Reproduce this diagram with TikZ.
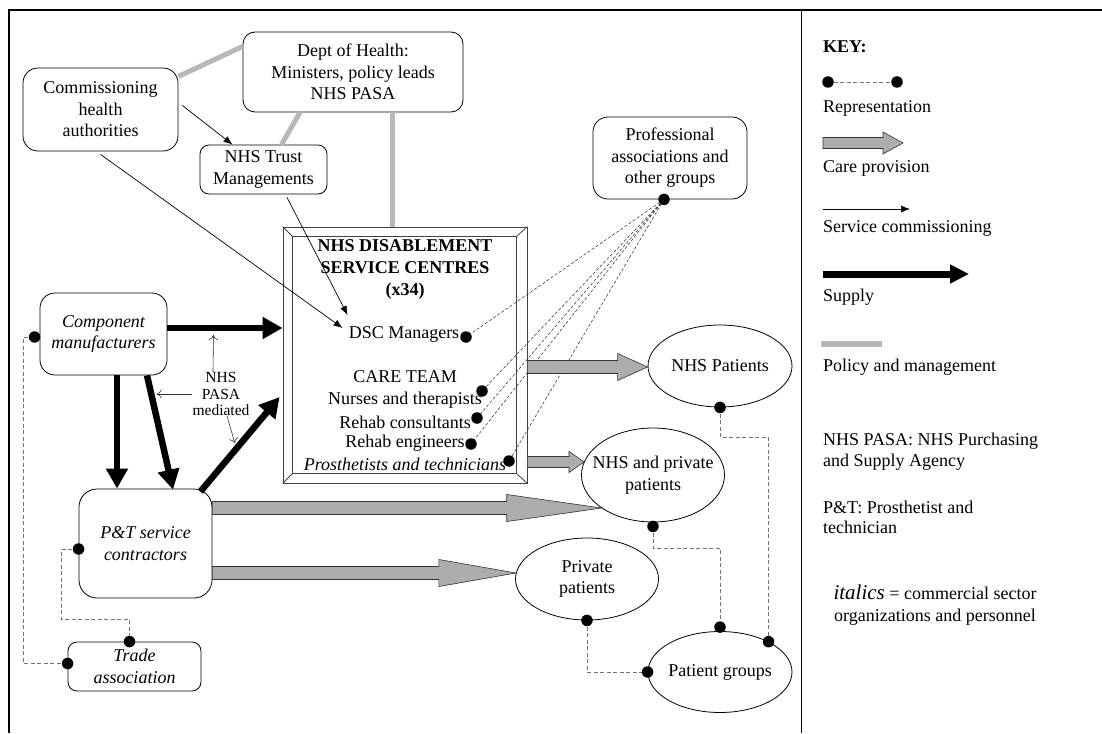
\documentclass[tikz,border=0pt]{standalone}
\usepackage{fontspec}
\setmainfont{Liberation Serif}
\usetikzlibrary{arrows.meta,shapes.geometric,calc,positioning,backgrounds}
\newcommand{\basefont}{\fontsize{18}{21.5}\selectfont}
\newcommand{\caregive}[5]{%
  \filldraw[fill=black!32, draw=black!80, line width=0.6pt]
    let \p1=#1, \p2=#2 in
    (\x1,\y1+#3) -- (\x2-#5,\y1+#3) -- (\x2-#5,\y1+#4) -- (\x2,\y1)
    -- (\x2-#5,\y1-#4) -- (\x2-#5,\y1-#3) -- (\x1,\y1-#3) -- cycle;}
\begin{document}
\begin{tikzpicture}[x=1pt, y=-1pt, font=\basefont]
    \tikzstyle{box} = [draw, rounded corners=12pt, align=center, inner sep=2pt, line width=0.8pt];
    \tikzstyle{ibox} = [box, rounded corners=15pt, font=\basefont\itshape];
    \tikzstyle{oval} = [draw, ellipse, align=center, inner sep=-12pt, line width=0.8pt];
    \tikzstyle{txt} = [inner sep=0pt, align=center];
    \tikzstyle{dot} = [circle, fill=black, inner sep=0pt, minimum size=11.5pt];
    \tikzstyle{policy} = [line width=5pt, draw=black!28];
    \tikzstyle{commission} = [-{Latex[length=9pt,width=7pt]}, line width=0.7pt];
    \tikzstyle{supply} = [-{Triangle[length=20pt,width=21pt]}, line width=6.5pt];
    \tikzstyle{repr} = [dash pattern=on 4pt off 2.5pt, line width=0.6pt, draw=black!55];
    \tikzstyle{rlink} = [dash pattern=on 3pt off 2pt, line width=0.5pt, draw=black!85];
    \tikzstyle{note} = [-{To[length=5pt,width=9pt]}, line width=0.6pt, draw=black!80];
    \useasboundingbox (0,0) rectangle (1102,733);
    \draw[line width=2.2pt] (9,733) -- (9,10) -- (1102,10);
    \draw[line width=0.9pt] (801,10) -- (801,733);
    % boxes
    \node [box, minimum width=220pt, minimum height=80pt] (dept) at (353,72) {Dept of Health:\\Ministers, policy leads\\NHS PASA};
    \node [box, rounded corners=15pt, minimum width=155pt, minimum height=83pt] (comm) at (100.5,109.5) {Commissioning\\health\\authorities};
    \node [box, rounded corners=9pt, minimum width=127pt, minimum height=49pt] (trust) at (263.5,169.5) {NHS Trust\\Managements};
    \node [box, rounded corners=15pt, minimum width=154pt, minimum height=82pt] (prof) at (670,158) {Professional\\associations and\\other groups};
    \node [ibox, minimum width=127pt, minimum height=82pt] (comp) at (103.5,334) {Component\\manufacturers};
    \node [ibox, rounded corners=18pt, minimum width=133pt, minimum height=109pt] (pt) at (145.5,543.5) {P\&T service\\contractors};
    \node [ibox, rounded corners=9pt, minimum width=133pt, minimum height=49pt] (trade) at (134.5,666.5) {Trade\\association};
    % service centres
    \node [draw=black!75, line width=0.8pt, minimum width=244pt, minimum height=256pt, inner sep=0pt] (dsc) at (405,355) {};
    \draw[black!75, line width=0.8pt] ([shift={(10,10)}]dsc.north west) rectangle ([shift={(-11,-10)}]dsc.south east);
    \draw[black!75, line width=0.8pt] (dsc.north west) -- ([shift={(10,10)}]dsc.north west);
    \draw[black!75, line width=0.8pt] (dsc.north east) -- ([shift={(-11,10)}]dsc.north east);
    \draw[black!75, line width=0.8pt] (dsc.south west) -- ([shift={(10,-10)}]dsc.south west);
    \draw[black!75, line width=0.8pt] (dsc.south east) -- ([shift={(-11,-10)}]dsc.south east);
    \node [txt, font=\fontsize{18}{22}\selectfont\bfseries] (title) at (405,269) {NHS DISABLEMENT\\SERVICE CENTRES\\(x34)};
    \node [txt] (man) at (404,334) {DSC Managers};
    \node [txt] (team) at (405,377) {CARE TEAM};
    \node [txt] (nurse) at (405,400) {Nurses and therapists};
    \node [txt] (cons) at (405,422) {Rehab consultants};
    \node [txt] (eng) at (405,443) {Rehab engineers};
    \node [txt, font=\basefont\itshape] (pros) at (405,464) {Prosthetists and technicians};
    % patients
    \node [oval, minimum width=144pt, minimum height=82pt] (nhspat) at (720,366) {NHS Patients};
    \node [oval, minimum width=143pt, minimum height=94pt] (nhspriv) at (653,475) {NHS and private\\patients};
    \node [oval, minimum width=143pt, minimum height=82pt] (privpat) at (587,579) {Private\\patients};
    \node [oval, minimum width=144pt, minimum height=81pt] (patgrp) at (720,672) {Patient groups};
    % policy and management
    \draw[policy] (comm.23) -- (dept.167);
    \draw[policy] ([xshift=-53pt]dept.south) -- ([xshift=18pt]trust.north);
    \draw[policy] ([xshift=39pt]dept.south) -- ([xshift=39pt]dept.south |- dsc.north);
    % service commissioning
    \draw[commission] ([xshift=4pt,yshift=4pt]comm.east) -- ([xshift=-31pt]trust.north);
    \draw[commission] ([yshift=-3pt]comm.south) -- ([shift={(-6,-6)}]man.west);
    \draw[commission] ([shift={(23.5,3)}]trust.south) -- ([shift={(-1,-19)}]man.west);
    % supply
    \draw[supply] ([yshift=6pt]comp.east) -- coordinate[pos=0.4] (smid) ([yshift=6pt]comp.east -| dsc.west);
    \draw[supply] ([xshift=13.5pt]comp.south) -- ([xshift=13.5pt]comp.south |- pt.north);
    \draw[supply] ([xshift=43.5pt]comp.south) -- coordinate[pos=0.18] (smid2) ([xshift=27.5pt,yshift=-1pt]pt.north);
    \draw[supply] ([shift={(-12,3)}]pt.north east) -- coordinate[pos=0.46] (smid3) ([shift={(-3,42)}]dsc.west);
    \node [txt, font=\fontsize{15.5}{16.5}\selectfont] (pasa) at (221,394) {NHS\\PASA\\mediated};
    \draw[note] ([xshift=-8pt]pasa.north) -- ([yshift=-7pt]smid);
    \draw[note] (pasa.west) -- ([xshift=5pt]smid2 |- pasa.west);
    \draw[note] ([xshift=6pt]pasa.south) -- ([shift={(-2,-5)}]smid3);
    % care provision
    \caregive{([yshift=-12pt]dsc.east)}{(nhspat.west)}{6.5pt}{13.5pt}{30pt}
    \caregive{([yshift=-107pt]dsc.east)}{(nhspriv.169)}{5.5pt}{10.5pt}{15pt}
    \caregive{([yshift=35.5pt]pt.east)}{(nhspriv.213)}{6.5pt}{13.5pt}{95pt}
    \caregive{([yshift=-29.5pt]pt.east)}{(privpat.175)}{6.5pt}{13.5pt}{77pt}
    % representation
    \node [dot] (dprof) at ([xshift=-6pt]prof.south) {};
    \node [dot] (dman) at (466,337) {};
    \node [dot] (dnur) at (482,391) {};
    \node [dot] (dcon) at (477,418) {};
    \node [dot] (deng) at (471,444) {};
    \node [dot] (dpro) at (509,461) {};
    \node [dot] (dcomp) at ([shift={(-5,3)}]comp.west) {};
    \node [dot] (dpt) at ([shift={(0,5.5)}]pt.west) {};
    \node [dot] (dtrt) at ([xshift=-5pt]trade.north) {};
    \node [dot] (dtrl) at ([shift={(0,-3)}]trade.west) {};
    \node [dot] (dnhs) at (nhspat.south) {};
    \node [dot] (dnp) at ([yshift=-4pt]nhspriv.south) {};
    \node [dot] (dpp) at (privpat.south) {};
    \node [dot] (dpg1) at ([yshift=4pt]patgrp.north) {};
    \node [dot] (dpg2) at (patgrp.32) {};
    \node [dot] (dpg3) at (patgrp.west) {};
    \begin{pgfonlayer}{background}
    \draw[rlink] (dprof.center) -- (dman.center);
    \draw[rlink] (dprof.center) -- (dnur.center);
    \draw[rlink] (dprof.center) -- (dcon.center);
    \draw[rlink] (dprof.center) -- (deng.center);
    \draw[rlink] (dprof.center) -- (dpro.center);
    \draw[repr] (dcomp.center) -- ([xshift=-11pt]dcomp.center) |- (dtrl.center);
    \draw[repr] (dpt.center) -- ([xshift=-17pt]dpt.center) |- ([yshift=22pt]dtrt.center) -- (dtrt.center);
    \draw[repr] (dnhs.center) -- ++(0,30) -| (dpg2.center);
    \draw[repr] (dnp.center) -- ++(0,22) -| (dpg1.center);
    \draw[repr] (dpp.center) |- (dpg3.center);
    \end{pgfonlayer}
    % key
    \node [txt, anchor=west, font=\basefont\bfseries] (key) at (823,47) {KEY:};
    \node [dot] (ka) at (828,82) {};
    \node [dot] (kb) at (897,82) {};
    \draw[repr] (ka) -- (kb);
    \node [txt, anchor=west] (krep) at (823,108) {Representation};
    \coordinate (kc) at (823,143);
    \coordinate (kd) at (903,143);
    \caregive{(kc)}{(kd)}{5.5pt}{11pt}{20pt}
    \node [txt, anchor=west] (kcare) at (823,168) {Care provision};
    \coordinate (ke) at (823,209);
    \coordinate (kf) at (910,209);
    \draw[commission] (ke) -- (kf);
    \node [txt, anchor=west] (kcom) at (823,228) {Service commissioning};
    \coordinate (kg) at (823,274);
    \coordinate (kh) at (969,274);
    \draw[supply, line width=7pt, -{Triangle[length=19pt,width=18pt]}] (kg) -- (kh);
    \node [txt, anchor=west] (ksup) at (823,297) {Supply};
    \coordinate (ki) at (821,344);
    \coordinate (kj) at (882,344);
    \draw[policy, line width=6pt] (ki) -- (kj);
    \node [txt, anchor=west] (kpol) at (823,367) {Policy and management};
    \node [txt, anchor=west, align=left] (kpasa) at (823,451.5) {NHS PASA: NHS Purchasing\\and Supply Agency};
    \node [txt, anchor=west, align=left, font=\fontsize{18}{20}\selectfont] (kpt) at (823,517) {P\&T: Prosthetist and\\technician};
    \node [txt] (kital) at (935,605) {{\fontsize{21}{22}\selectfont\itshape italics} = commercial sector\\organizations and personnel};
\end{tikzpicture}
\end{document}
